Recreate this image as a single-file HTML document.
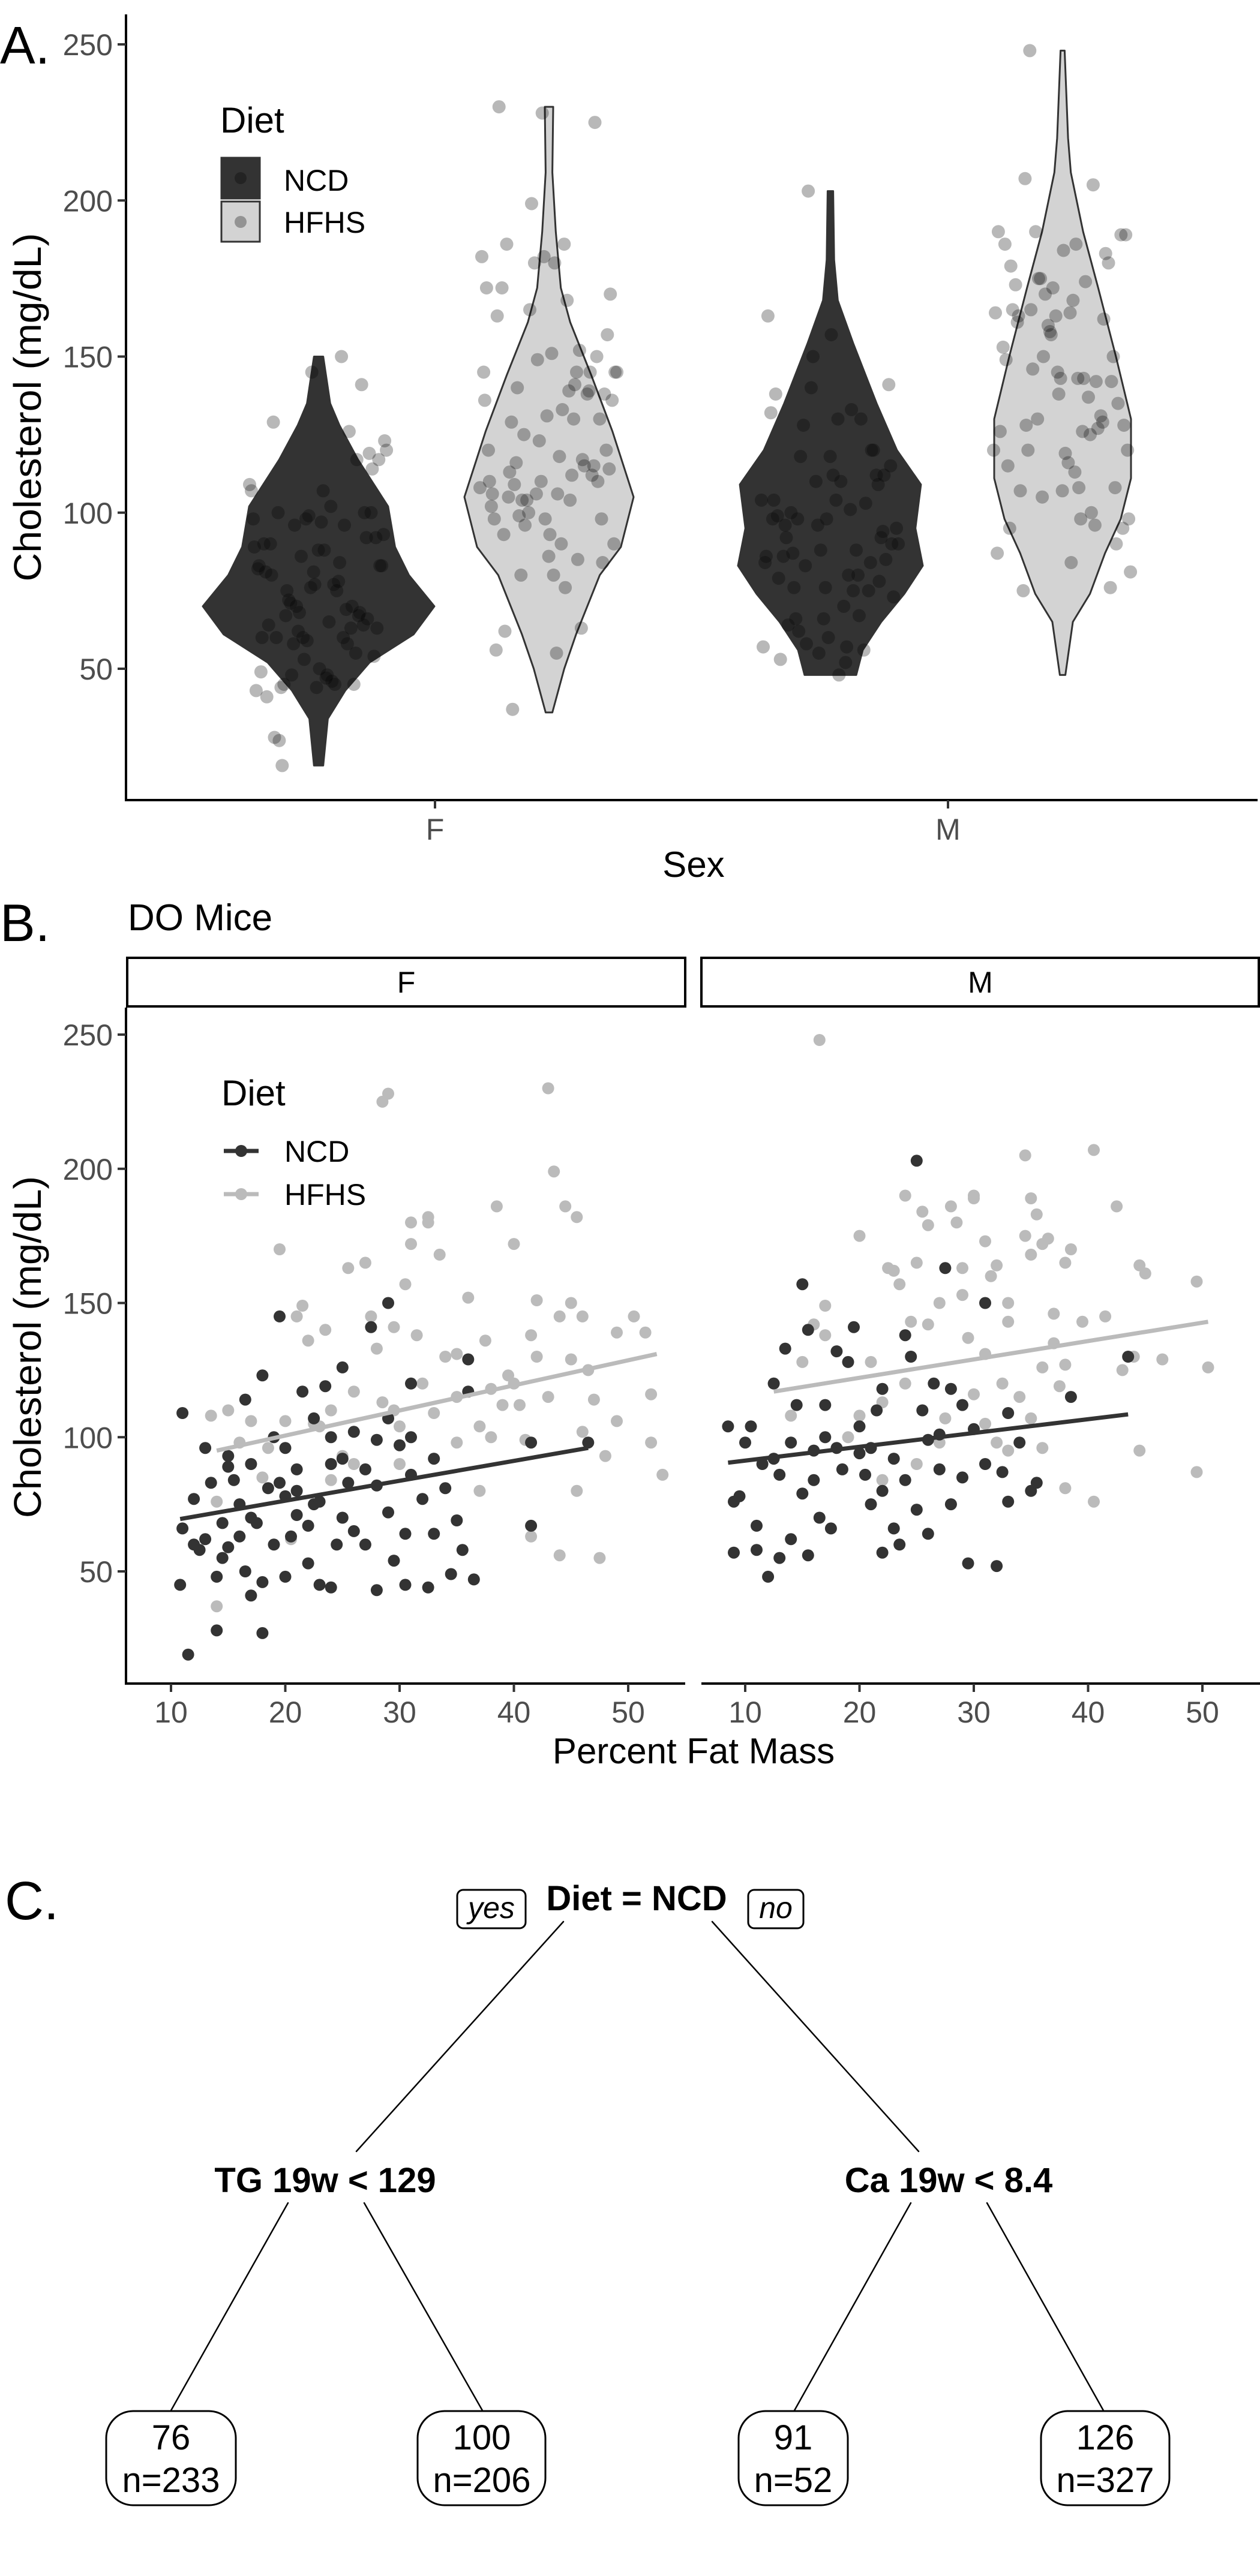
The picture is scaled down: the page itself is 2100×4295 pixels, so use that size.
<!DOCTYPE html>
<html><head><meta charset="utf-8">
<style>
html,body{margin:0;padding:0;background:#fff;}
svg{display:block;font-family:"Liberation Sans",Arial,sans-serif;}
</style></head>
<body>
<svg id="fig" width="2100" height="4295" viewBox="0 0 2100 4295" xmlns="http://www.w3.org/2000/svg">
<rect x="0" y="0" width="2100" height="4295" fill="#fff"/>

<!-- PANEL A -->
<g>
  <text x="0" y="106" font-size="88">A.</text>
  <g id="aMarks"></g>
  <line x1="210" y1="24" x2="210" y2="1336" stroke="#000" stroke-width="4"/>
  <line x1="208" y1="1334" x2="2096" y2="1334" stroke="#000" stroke-width="4"/>
  <g id="aYTicks"></g>
  <line x1="725" y1="1334" x2="725" y2="1348" stroke="#333" stroke-width="4"/>
  <line x1="1580" y1="1334" x2="1580" y2="1348" stroke="#333" stroke-width="4"/>
  <text x="725" y="1400" font-size="50" fill="#4d4d4d" text-anchor="middle">F</text>
  <text x="1580" y="1400" font-size="50" fill="#4d4d4d" text-anchor="middle">M</text>
  <text x="1156" y="1462" font-size="60" text-anchor="middle">Sex</text>
  <text transform="translate(68 679) rotate(-90)" font-size="64" text-anchor="middle" textLength="581" lengthAdjust="spacingAndGlyphs">Cholesterol (mg/dL)</text>
  <g>
    <text x="367" y="221" font-size="60">Diet</text>
    <rect x="369" y="263" width="64" height="68" fill="#333" stroke="#333" stroke-width="3"/>
    <circle cx="401" cy="297" r="10" fill="#000" fill-opacity="0.3"/>
    <rect x="369" y="336" width="64" height="67" fill="#d3d3d3" stroke="#333" stroke-width="3"/>
    <circle cx="401" cy="370" r="10" fill="#000" fill-opacity="0.3"/>
    <text x="473" y="318" font-size="50">NCD</text>
    <text x="473" y="388" font-size="50">HFHS</text>
  </g>
</g>

<!-- PANEL B -->
<g>
  <text x="0" y="1569" font-size="88">B.</text>
  <text x="213" y="1551" font-size="62">DO Mice</text>
  <rect x="212" y="1597" width="930" height="81" fill="#fff" stroke="#000" stroke-width="4"/>
  <rect x="1169" y="1597" width="929" height="81" fill="#fff" stroke="#000" stroke-width="4"/>
  <text x="677" y="1655" font-size="50" text-anchor="middle">F</text>
  <text x="1634" y="1655" font-size="50" text-anchor="middle">M</text>
  <g id="bMarks"></g>
  <line x1="210" y1="1680" x2="210" y2="2809" stroke="#000" stroke-width="4"/>
  <line x1="208" y1="2807" x2="1142" y2="2807" stroke="#000" stroke-width="4"/>
  <line x1="1169" y1="2807" x2="2100" y2="2807" stroke="#000" stroke-width="4"/>
  <g id="bTicks"></g>
  <text x="1156" y="2940" font-size="60" text-anchor="middle">Percent Fat Mass</text>
  <text transform="translate(68 2246) rotate(-90)" font-size="64" text-anchor="middle" textLength="570" lengthAdjust="spacingAndGlyphs">Cholesterol (mg/dL)</text>
  <g>
    <text x="369" y="1843" font-size="60">Diet</text>
    <line x1="373" y1="1919" x2="431" y2="1919" stroke="#333" stroke-width="7"/>
    <circle cx="402" cy="1919" r="10" fill="#333"/>
    <line x1="373" y1="1991" x2="431" y2="1991" stroke="#bbb" stroke-width="7"/>
    <circle cx="402" cy="1991" r="10" fill="#bbb"/>
    <text x="474" y="1937" font-size="50">NCD</text>
    <text x="474" y="2009" font-size="50">HFHS</text>
  </g>
</g>

<!-- PANEL C tree -->
<g stroke-linecap="round">
  <text x="8" y="3200" font-size="90">C.</text>
  <g stroke="#000" stroke-width="2.5">
    <line x1="939" y1="3204" x2="594" y2="3587"/>
    <line x1="1187" y1="3204" x2="1531" y2="3587"/>
    <line x1="480" y1="3673" x2="285" y2="4019"/>
    <line x1="607" y1="3673" x2="804" y2="4019"/>
    <line x1="1518" y1="3673" x2="1324" y2="4019"/>
    <line x1="1645" y1="3673" x2="1839" y2="4019"/>
  </g>
  <text x="1061" y="3185" font-size="58" font-weight="bold" text-anchor="middle">Diet = NCD</text>
  <rect x="762" y="3151" width="114" height="64" rx="10" fill="#fff" stroke="#000" stroke-width="3"/>
  <text x="819" y="3198" font-size="50" font-style="italic" text-anchor="middle">yes</text>
  <rect x="1247" y="3151" width="92" height="64" rx="10" fill="#fff" stroke="#000" stroke-width="3"/>
  <text x="1293" y="3198" font-size="50" font-style="italic" text-anchor="middle">no</text>
  <text x="542" y="3655" font-size="58" font-weight="bold" text-anchor="middle">TG 19w &lt; 129</text>
  <text x="1581" y="3655" font-size="58" font-weight="bold" text-anchor="middle">Ca 19w &lt; 8.4</text>
  <g>
    <rect x="177" y="4020" width="216" height="157" rx="45" fill="#fff" stroke="#000" stroke-width="3"/>
    <text x="285" y="4084" font-size="58" text-anchor="middle">76</text>
    <text x="285" y="4155" font-size="58" text-anchor="middle">n=233</text>
  </g>
  <g>
    <rect x="696" y="4020" width="213" height="157" rx="45" fill="#fff" stroke="#000" stroke-width="3"/>
    <text x="803" y="4084" font-size="58" text-anchor="middle">100</text>
    <text x="803" y="4155" font-size="58" text-anchor="middle">n=206</text>
  </g>
  <g>
    <rect x="1231" y="4020" width="182" height="157" rx="45" fill="#fff" stroke="#000" stroke-width="3"/>
    <text x="1322" y="4084" font-size="58" text-anchor="middle">91</text>
    <text x="1322" y="4155" font-size="58" text-anchor="middle">n=52</text>
  </g>
  <g>
    <rect x="1735" y="4020" width="214" height="157" rx="45" fill="#fff" stroke="#000" stroke-width="3"/>
    <text x="1842" y="4084" font-size="58" text-anchor="middle">126</text>
    <text x="1842" y="4155" font-size="58" text-anchor="middle">n=327</text>
  </g>
</g>
</svg>

<script>
// ---------- DATA ----------
const yTicksA = [50, 100, 150, 200, 250];
const yTicksB = [50, 100, 150, 200, 250];
const xTicksB = [10, 20, 30, 40, 50];
const sexCats = ["F", "M"];
const dietCats = ["NCD", "HFHS"];

// violin profiles: [cholesterol, relative half-width]
const violinFNCD = [[19,0.04],[34,0.08],[43,0.23],[52,0.44],[61,0.82],[70,1.0],[80,0.78],[89,0.66],[102,0.6],[117,0.34],[128,0.18],[135,0.1],[150,0.04]];
const violinFHFHS = [[36,0.04],[50,0.18],[61,0.32],[80,0.6],[89,0.85],[105,1.0],[126,0.75],[144,0.5],[161,0.25],[172,0.14],[190,0.08],[209,0.04],[230,0.05]];
const violinMNCD = [[48,0.28],[56,0.35],[65,0.55],[74,0.8],[83,1.0],[95,0.92],[109,0.98],[120,0.72],[135,0.5],[154,0.25],[168,0.08],[181,0.04],[203,0.03]];
const violinMHFHS = [[48,0.04],[65,0.15],[74,0.4],[87,0.62],[98,0.85],[111,1.0],[130,1.0],[150,0.78],[172,0.52],[190,0.3],[209,0.12],[220,0.08],[248,0.03]];

// scatter data: [percent fat mass, cholesterol]
const fNCD = [[11,109],[10.8,45],[11.5,19],[11,66],[12,77],[12,60],[12.5,58],[13,96],[13.5,83],[14,48],[14,28],[14.5,68],[15,59],[15,89],[15.5,84],[16,75],[16.5,114],[16.5,50],[17,41],[17,70],[17.5,68],[18,123],[18,46],[18,27],[19,100],[19.5,145],[19.5,83],[20,96],[20,48],[20.5,63],[21,88],[21,80],[21.5,117],[22,53],[22.5,107],[22.5,75],[23,45],[23.5,119],[24,44],[24,90],[25,126],[25,70],[25.5,83],[26,65],[27,60],[27.5,141],[28,99],[28,43],[29,150],[29,72],[29.5,54],[30,97],[30.5,64],[30.5,45],[31,86],[31,120],[32,77],[32.5,44],[33,92],[34,81],[34.5,49],[35,69],[35.5,58],[36,117],[36.5,47],[36,129],[41.5,67],[41.5,98],[46.5,98],[20,78],[22,67],[24,100],[27,88],[18.5,81],[16,63],[13,62],[15,93],[26,102],[31,100],[33,64],[23,76],[28,82],[19,60],[21,71],[25,92],[29,107],[17,90],[14.5,55],[24.5,60]];
const fHFHS = [[13.5,108],[14,76],[14,37],[15,110],[16,98],[17,106],[18,85],[18.5,96],[19.5,170],[20,106],[20.5,62],[21,145],[21.5,149],[22,136],[23,104],[23.5,140],[24,84],[25,93],[25.5,163],[26,117],[27,165],[27.5,145],[28,133],[28.5,113],[28.5,225],[29,228],[29.5,110],[29.5,141],[30,104],[30.5,157],[31,180],[31,172],[31.5,138],[32.5,180],[32.5,182],[33.5,168],[33,109],[34,130],[35,131],[35,98],[36,152],[37,104],[37.5,136],[38,118],[38.5,186],[39,112],[39.5,123],[40,172],[40.5,112],[41,99],[41.5,138],[42,151],[43,230],[43,115],[43.5,199],[44,145],[44.5,186],[45,129],[45,150],[45.5,182],[46,102],[46,145],[46.5,125],[47,114],[47.5,55],[48,93],[49,139],[49,106],[50.5,145],[51.5,139],[52,116],[52,98],[53,86],[44,56],[41.5,63],[38,100],[30,90],[26,90],[22.5,105],[35,115],[24,110],[40,120],[42,130],[37,80],[32,120],[45.5,80]];
const mNCD = [[8.5,104],[9,57],[9,76],[9.5,78],[10,98],[10.5,104],[11,67],[11,58],[11.5,90],[12,48],[12.5,92],[12.5,120],[13,55],[13,86],[13.5,133],[14,62],[14.5,112],[15,157],[15,79],[15.5,56],[15.5,140],[16,95],[16.5,70],[17,100],[17,112],[17.5,66],[18,132],[18.5,88],[19,128],[19.5,141],[20,104],[20.5,86],[21,75],[21.5,110],[22,57],[22,80],[23,66],[23,92],[23.5,60],[24,138],[24.5,130],[25,203],[25,73],[25.5,110],[26,64],[26.5,120],[27,88],[27.5,163],[28,75],[28,118],[29,85],[29,112],[29.5,53],[30,103],[31,150],[31,90],[32,52],[32.5,87],[33,109],[33,76],[34,98],[35,80],[35.5,83],[38.5,115],[43.5,130],[18,96],[16,84],[21,96],[24,84],[27,101],[14,98],[20,94],[22,118],[26,99]];
const mHFHS = [[12.5,120],[14,108],[15,128],[16,142],[17,138],[17,149],[19,100],[20,175],[21,128],[22,84],[22.5,163],[23,162],[23.5,157],[24,190],[24.5,143],[25,165],[25,90],[25.5,184],[26,179],[26,142],[27,150],[27,98],[28,186],[28,75],[28.5,180],[29,163],[29,153],[29.5,137],[30,190],[30,189],[30,116],[31,173],[31,131],[31.5,160],[32,164],[32,98],[32.5,120],[33,150],[33,143],[34,115],[34.5,205],[34.5,175],[35,189],[35,168],[35,107],[35.5,183],[36,172],[36,126],[36.5,174],[37,146],[37,135],[37.5,119],[38,165],[38,127],[38.5,170],[38,81],[39.5,143],[40.5,207],[40.5,76],[41.5,145],[42.5,186],[43,125],[44,130],[44.5,95],[44.5,164],[45,161],[46.5,129],[49.5,158],[49.5,87],[50.5,126],[16.5,248],[20,108],[27.5,107],[33,95],[36,96],[31,105],[24,120],[22,113]];

// fitted regression line endpoints: [fat start, chol start, fat end, chol end]
const fitFNCD = [10.8, 69.5, 46.5, 96];
const fitFHFHS = [14, 95, 52.5, 131];
const fitMNCD = [8.5, 90.5, 43.5, 108.5];
const fitMHFHS = [12.5, 117, 50.5, 143];

// ---------- SCALES ----------
const NS = "http://www.w3.org/2000/svg";
function yA(v){ return 1115 - (v - 50) * 5.205; }
function xA(sex, diet){ return sex === "F" ? (diet === "NCD" ? 531 : 915) : (diet === "NCD" ? 1384 : 1771); }
const halfMaxA = {"F-NCD":193, "F-HFHS":141, "M-NCD":154, "M-HFHS":114};
function yB(v){ return 2620 - (v - 50) * 4.475; }
function xB(facet, v){ return (facet === "F" ? 285 : 1242) + (v - 10) * 19.05; }
function mk(tag, parent){ const e = document.createElementNS(NS, tag); parent.appendChild(e); return e; }

// ---------- PANEL A ----------
const aMarks = document.getElementById("aMarks");
const violins = [["F","NCD",violinFNCD,"#333"],["F","HFHS",violinFHFHS,"#d3d3d3"],["M","NCD",violinMNCD,"#333"],["M","HFHS",violinMHFHS,"#d3d3d3"]];
violins.forEach(function(vd){
  const cx = xA(vd[0], vd[1]); const hm = halfMaxA[vd[0]+"-"+vd[1]]; const prof = vd[2];
  let pts = [];
  prof.forEach(function(p){ pts.push((cx + p[1]*hm).toFixed(1)+","+yA(p[0]).toFixed(1)); });
  prof.slice().reverse().forEach(function(p){ pts.push((cx - p[1]*hm).toFixed(1)+","+yA(p[0]).toFixed(1)); });
  const path = mk("polygon", aMarks);
  path.setAttribute("points", pts.join(" "));
  path.setAttribute("fill", vd[3]);
  path.setAttribute("stroke", "#333");
  path.setAttribute("stroke-width", "3");
  path.setAttribute("stroke-linejoin", "round");
  
  
});
const jitterSets = [["F","NCD",fNCD],["F","HFHS",fHFHS],["M","NCD",mNCD],["M","HFHS",mHFHS]];
jitterSets.forEach(function(js){
  const cx = xA(js[0], js[1]);
  js[2].forEach(function(d, i){
    const off = (((i * 0.6180339) % 1) - 0.5) * 2 * 115;
    const c = mk("circle", aMarks);
    c.setAttribute("cx", (cx + off).toFixed(1));
    c.setAttribute("cy", yA(d[1]).toFixed(1));
    c.setAttribute("r", "11");
    c.setAttribute("fill", "#000");
    c.setAttribute("fill-opacity", "0.28");
    
    
  });
});
const aYT = document.getElementById("aYTicks");
yTicksA.forEach(function(t){
  const l = mk("line", aYT);
  l.setAttribute("x1", 196); l.setAttribute("x2", 210);
  l.setAttribute("y1", yA(t)); l.setAttribute("y2", yA(t));
  l.setAttribute("stroke", "#333"); l.setAttribute("stroke-width", "4");
  
  
  const tx = mk("text", aYT);
  tx.setAttribute("x", 188); tx.setAttribute("y", yA(t) + 18);
  tx.setAttribute("font-size", "50"); tx.setAttribute("fill", "#4d4d4d"); tx.setAttribute("text-anchor", "end");
  tx.textContent = t;
  
  
});

// ---------- PANEL B ----------
const bMarks = document.getElementById("bMarks");
const scat = [["F",fHFHS,"#bbb"],["M",mHFHS,"#bbb"],["F",fNCD,"#333"],["M",mNCD,"#333"]];
scat.forEach(function(s){
  s[1].forEach(function(d){
    const c = mk("circle", bMarks);
    c.setAttribute("cx", xB(s[0], d[0]).toFixed(1));
    c.setAttribute("cy", yB(d[1]).toFixed(1));
    c.setAttribute("r", "10");
    c.setAttribute("fill", s[2]);
    
    
  });
});
const fits = [["F",fitFNCD,"#333"],["F",fitFHFHS,"#bbb"],["M",fitMNCD,"#333"],["M",fitMHFHS,"#bbb"]];
fits.forEach(function(f){
  const l = mk("line", bMarks);
  l.setAttribute("x1", xB(f[0], f[1][0])); l.setAttribute("y1", yB(f[1][1]));
  l.setAttribute("x2", xB(f[0], f[1][2])); l.setAttribute("y2", yB(f[1][3]));
  l.setAttribute("stroke", f[2]); l.setAttribute("stroke-width", "7");
  
  
});
const bT = document.getElementById("bTicks");
yTicksB.forEach(function(t){
  const l = mk("line", bT);
  l.setAttribute("x1", 196); l.setAttribute("x2", 210);
  l.setAttribute("y1", yB(t)); l.setAttribute("y2", yB(t));
  l.setAttribute("stroke", "#333"); l.setAttribute("stroke-width", "4");
  
  
  const tx = mk("text", bT);
  tx.setAttribute("x", 188); tx.setAttribute("y", yB(t) + 18);
  tx.setAttribute("font-size", "50"); tx.setAttribute("fill", "#4d4d4d"); tx.setAttribute("text-anchor", "end");
  tx.textContent = t;
  
  
});
sexCats.forEach(function(fc){
  xTicksB.forEach(function(t){
    const l = mk("line", bT);
    l.setAttribute("x1", xB(fc, t)); l.setAttribute("x2", xB(fc, t));
    l.setAttribute("y1", 2807); l.setAttribute("y2", 2821);
    l.setAttribute("stroke", "#333"); l.setAttribute("stroke-width", "4");
    
    
    const tx = mk("text", bT);
    tx.setAttribute("x", xB(fc, t)); tx.setAttribute("y", 2872);
    tx.setAttribute("font-size", "50"); tx.setAttribute("fill", "#4d4d4d"); tx.setAttribute("text-anchor", "middle");
    tx.textContent = t;
    
    
  });
});
</script>
</body></html>
